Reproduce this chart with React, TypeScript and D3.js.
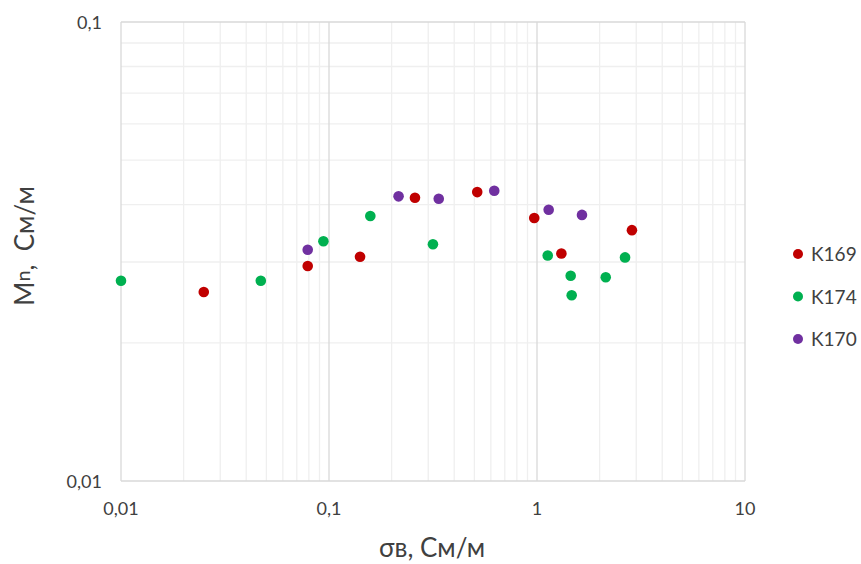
import { useEffect, useRef } from 'react';
import * as d3 from 'd3';

// x = σв (См/м), y = Mn (См/м)
const seriesNames = ['K169', 'K174', 'K170'];
const seriesColors = ['#C00000', '#00B050', '#7030A0'];

const k169X = [0.025, 0.079, 0.141, 0.259, 0.516, 0.97, 1.31, 2.86];
const k169Y = [0.0258, 0.0294, 0.0308, 0.0414, 0.0426, 0.0374, 0.0313, 0.0352];

const k174X = [0.01, 0.047, 0.094, 0.158, 0.316, 1.126, 1.452, 1.468, 2.14, 2.65];
const k174Y = [0.0273, 0.0273, 0.0333, 0.0378, 0.0328, 0.031, 0.028, 0.0254, 0.0278, 0.0307];

const k170X = [0.079, 0.216, 0.337, 0.623, 1.138, 1.645];
const k170Y = [0.0319, 0.0417, 0.0412, 0.0429, 0.039, 0.038];

const xTicks = [0.01, 0.1, 1, 10];
const yTicks = [0.01, 0.1];

const FONT = 'Lato, "Open Sans", sans-serif';

const App = () => {
  const svgRef = useRef<SVGSVGElement>(null);

  useEffect(() => {
    if (!svgRef.current) return;
    const W = 861;
    const H = 564;
    const margin = { top: 22, right: 116, bottom: 83, left: 121 };
    const width = W - margin.left - margin.right;
    const height = H - margin.top - margin.bottom;

    d3.select(svgRef.current).selectAll('*').remove();
    const root = d3.select(svgRef.current).attr('width', W).attr('height', H);
    root.append('rect').attr('width', W).attr('height', H).attr('fill', '#fff');

    const svg = root.append('g').attr('transform', `translate(${margin.left},${margin.top})`);

    const x = d3.scaleLog().domain([0.01, 10]).range([0, width]);
    const y = d3.scaleLog().domain([0.01, 0.1]).range([height, 0]);

    const fmt = (v: number) => String(v).replace('.', ',');

    // minor grid
    const minorX = x.ticks().filter(v => !xTicks.some(t => Math.abs(t - v) < 1e-9));
    const minorY = y.ticks().filter(v => !yTicks.some(t => Math.abs(t - v) < 1e-9));
    svg.selectAll('.gx').data(minorX).enter().append('line')
      .attr('x1', d => x(d)).attr('x2', d => x(d)).attr('y1', 0).attr('y2', height)
      .attr('stroke', '#efefef').attr('stroke-width', 1.3);
    svg.selectAll('.gy').data(minorY).enter().append('line')
      .attr('x1', 0).attr('x2', width).attr('y1', d => y(d)).attr('y2', d => y(d))
      .attr('stroke', '#efefef').attr('stroke-width', 1.3);

    // major grid + frame
    svg.selectAll('.mx').data(xTicks).enter().append('line')
      .attr('x1', d => x(d)).attr('x2', d => x(d)).attr('y1', 0).attr('y2', height)
      .attr('stroke', '#d9d9d9').attr('stroke-width', 1.3);
    svg.selectAll('.my').data(yTicks).enter().append('line')
      .attr('x1', 0).attr('x2', width).attr('y1', d => y(d)).attr('y2', d => y(d))
      .attr('stroke', '#d9d9d9').attr('stroke-width', 1.3);

    // tick labels
    svg.selectAll('.tx').data(xTicks).enter().append('text')
      .attr('x', d => x(d)).attr('y', height + 34)
      .attr('text-anchor', 'middle')
      .style('font-family', FONT).style('font-size', '18px').style('fill', '#404040')
      .text(d => fmt(d));
    svg.selectAll('.ty').data(yTicks).enter().append('text')
      .attr('x', -19).attr('y', d => y(d) + 7)
      .attr('text-anchor', 'end')
      .style('font-family', FONT).style('font-size', '18px').style('fill', '#404040')
      .text(d => fmt(d));

    // points
    const series = [
      { xs: k169X, ys: k169Y },
      { xs: k174X, ys: k174Y },
      { xs: k170X, ys: k170Y }
    ];
    series.forEach((s, i) => {
      const pts = s.xs.map((v, j) => ({ x: v, y: s.ys[j] }));
      svg.selectAll(`.p${i}`).data(pts).enter().append('circle')
        .attr('cx', d => x(d.x)).attr('cy', d => y(d.y))
        .attr('r', 5.3).attr('fill', seriesColors[i]);
    });

    // legend
    seriesNames.forEach((name, i) => {
      const ly = 254 + i * 42.5;
      root.append('circle').attr('cx', 798).attr('cy', ly).attr('r', 5).attr('fill', seriesColors[i]);
      root.append('text').attr('x', 811).attr('y', ly + 7)
        .style('font-family', FONT).style('font-size', '19px').style('fill', '#404040')
        .text(name);
    });

    // axis titles
    root.append('text')
      .attr('x', margin.left + width / 2 - 1).attr('y', 557)
      .attr('text-anchor', 'middle')
      .style('font-family', FONT).style('font-size', '26px').style('fill', '#404040')
      .text('σв, См/м');

    const yt = root.append('text')
      .attr('transform', `translate(34,246) rotate(-90)`)
      .attr('text-anchor', 'middle')
      .style('font-family', FONT).style('font-size', '26px').style('fill', '#404040');
    yt.append('tspan').text('M');
    yt.append('tspan').attr('dy', -4).style('font-size', '20px').text('n');
    yt.append('tspan').attr('dy', 4).text(',\u00a0 См/м');
  }, []);

  return (
    <div style={{ position: 'absolute', left: 0, top: 0, width: 861, height: 564, overflow: 'hidden' }}>
      <svg ref={svgRef} style={{ display: 'block' }}></svg>
    </div>
  );
};

export default App;
